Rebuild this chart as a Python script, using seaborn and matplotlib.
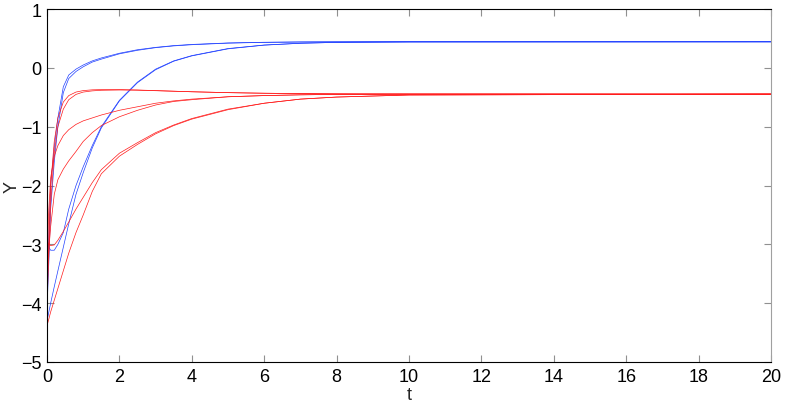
import matplotlib
matplotlib.use("Agg")
import matplotlib.pyplot as plt
import seaborn as sns
import pandas as pd

# time grid shared by all trajectories
t = [0, 0.05, 0.1, 0.2, 0.3, 0.45, 0.6, 0.8, 1.0, 1.25, 1.5, 2.0, 2.5, 3.0,
     3.5, 4.0, 5.0, 6.0, 7.0, 8.0, 10.0, 20.0]

# blue trajectories (settle at about +0.445)
b1a = [-3.7, -2.9, -2.0, -1.35, -0.85, -0.32, -0.12, -0.02, 0.05, 0.12, 0.17, 0.25,
       0.31, 0.35, 0.38, 0.40, 0.425, 0.437, 0.442, 0.444, 0.445, 0.445]
b1b = [-4.1, -3.3, -2.4, -1.6, -1.0, -0.42, -0.18, -0.06, 0.02, 0.10, 0.15, 0.24,
       0.30, 0.345, 0.375, 0.395, 0.422, 0.435, 0.441, 0.444, 0.445, 0.445]
b2a = [-2.95, -3.05, -3.1, -3.1, -3.0, -2.8, -2.4, -2.0, -1.68, -1.32, -1.0, -0.55,
       -0.24, -0.02, 0.12, 0.21, 0.33, 0.39, 0.42, 0.435, 0.443, 0.445]
b2b = [-4.3, -4.15, -4.0, -3.72, -3.45, -3.05, -2.65, -2.15, -1.78, -1.36, -1.02, -0.56,
       -0.25, -0.03, 0.115, 0.205, 0.325, 0.388, 0.42, 0.435, 0.443, 0.445]

# red trajectories (settle at about -0.445)
r1a = [-3.8, -2.9, -2.0, -1.25, -0.85, -0.58, -0.47, -0.41, -0.385, -0.372, -0.368, -0.368,
       -0.375, -0.385, -0.395, -0.405, -0.42, -0.43, -0.436, -0.44, -0.443, -0.445]
r1b = [-4.0, -3.2, -2.3, -1.45, -1.0, -0.7, -0.54, -0.45, -0.41, -0.39, -0.38, -0.375,
       -0.378, -0.387, -0.396, -0.405, -0.42, -0.43, -0.436, -0.44, -0.443, -0.445]
r2a = [-3.3, -2.4, -1.87, -1.5, -1.32, -1.15, -1.05, -0.96, -0.9, -0.85, -0.8, -0.72,
       -0.66, -0.6, -0.56, -0.53, -0.49, -0.47, -0.457, -0.45, -0.446, -0.445]
r2b = [-3.5, -3.1, -2.7, -2.15, -1.9, -1.72, -1.58, -1.42, -1.25, -1.1, -0.98, -0.83,
       -0.72, -0.63, -0.57, -0.54, -0.49, -0.47, -0.457, -0.45, -0.446, -0.445]
r3a = [-2.95, -3.0, -3.02, -3.01, -2.93, -2.78, -2.62, -2.4, -2.2, -1.95, -1.73, -1.45,
       -1.27, -1.1, -0.97, -0.86, -0.7, -0.6, -0.53, -0.495, -0.46, -0.445]
r3b = [-4.38, -4.27, -4.15, -3.95, -3.75, -3.45, -3.15, -2.8, -2.5, -2.1, -1.8, -1.5,
       -1.3, -1.12, -0.98, -0.87, -0.71, -0.6, -0.53, -0.495, -0.46, -0.445]

x_ticks = [0, 2, 4, 6, 8, 10, 12, 14, 16, 18, 20]
y_ticks = [-5, -4, -3, -2, -1, 0, 1]

curves = {"b1a": ("blue", b1a), "b1b": ("blue", b1b), "b2a": ("blue", b2a), "b2b": ("blue", b2b),
          "r1a": ("red", r1a), "r1b": ("red", r1b), "r2a": ("red", r2a), "r2b": ("red", r2b),
          "r3a": ("red", r3a), "r3b": ("red", r3b)}

rows = []
for name, (grp, vals) in curves.items():
    for ti, yi in zip(t, vals):
        rows.append({"t": ti, "Y": yi, "curve": name, "group": grp})
df = pd.DataFrame(rows)

sns.set_style("ticks")
plt.rcParams['font.family'] = ['Liberation Sans', 'DejaVu Sans']

fig = plt.figure(figsize=(7.89, 4.06), dpi=100)
ax = fig.add_axes([0.0596, 0.106, 0.9176, 0.869])

sns.lineplot(data=df, x="t", y="Y", hue="group", units="curve", estimator=None,
             palette={"blue": "#2040ff", "red": "#ff1a1a"}, linewidth=0.5,
             legend=False, sort=False, ax=ax)

ax.set_xlim(0, 20)
ax.set_ylim(-5, 1)
ax.set_xticks(x_ticks)
ax.set_yticks(y_ticks)
ax.tick_params(direction="in", length=5, width=0.8, colors="#909090",
               labelcolor="black", labelsize=13, top=True, right=True, pad=4)
for s in ax.spines.values():
    s.set_visible(True)
    s.set_linewidth(0.8)
    s.set_color("black")
ax.spines["right"].set_color("#a0a0a0")
ax.set_xlabel("t", fontsize=13, labelpad=1)
ax.set_ylabel("Y", fontsize=13, labelpad=0)

fig.savefig("out.png", dpi=100)
